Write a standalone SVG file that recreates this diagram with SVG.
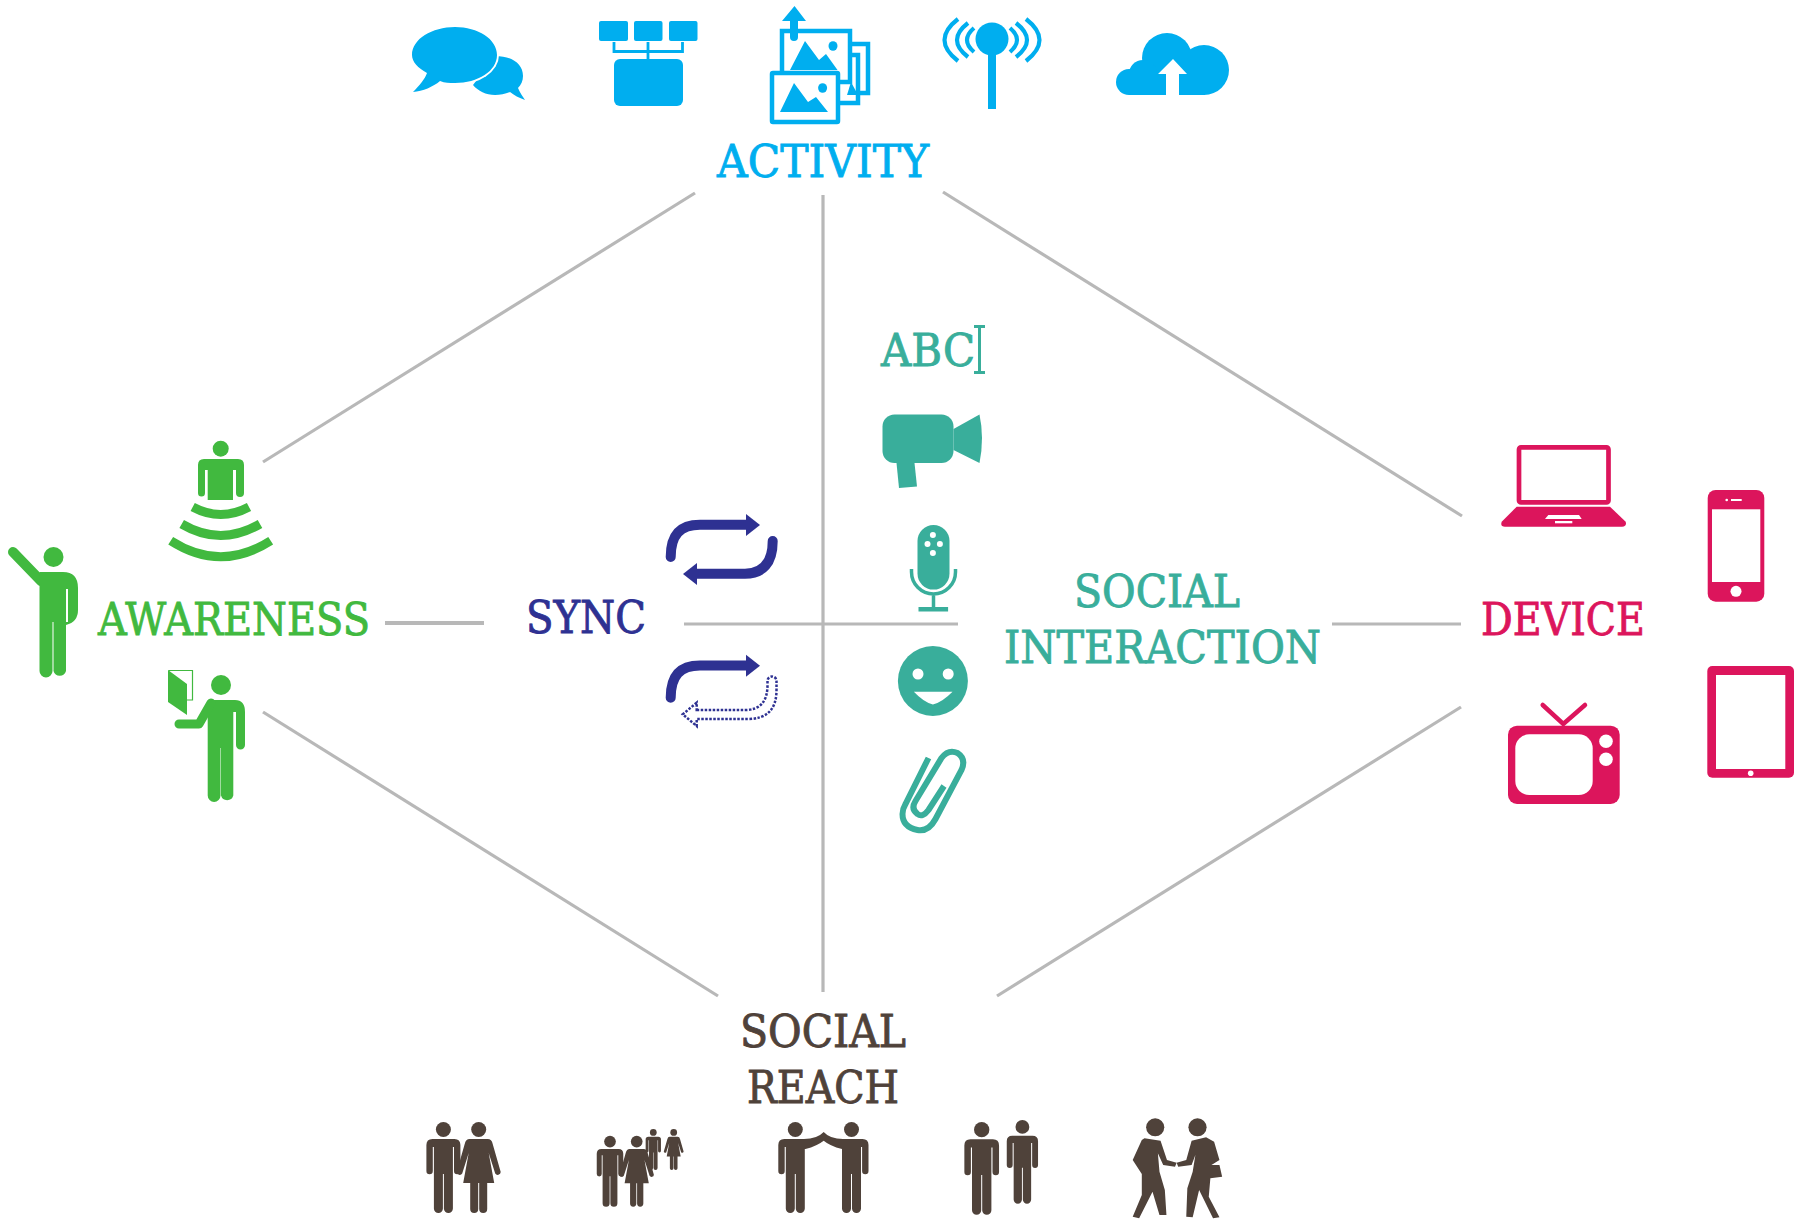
<svg xmlns="http://www.w3.org/2000/svg" xmlns:xlink="http://www.w3.org/1999/xlink" width="1797" height="1221" viewBox="0 0 1797 1221">
<style>
.t{font-family:"DejaVu Serif","Liberation Serif",serif;font-size:44px;stroke-width:.9}
.blue{fill:#00aeef;stroke:none}.green{fill:#41b93f}.navy{fill:#2e3192}.teal{fill:#39ae9b}.pink{fill:#dc155c}.brown{fill:#4f423a}
.w{fill:#fff}
.ln{stroke:#b8b8b8;stroke-width:3.2;fill:none}
</style>
<defs>
<g id="man"><circle cy="7.500" r="7.500"/><path d="M-11 17H11Q17 17 17 23V49A3.200 3.200 0 0 1 10.600 49V25H9.500V86.500A4.500 4.500 0 0 1 .5 86.500V52H-.5V86.500A4.500 4.500 0 0 1-9.500 86.500V25H-10.600V49A3.200 3.200 0 0 1-17 49V23Q-17 17-11 17Z"/></g>
<g id="man1"><circle cy="7.500" r="7.500"/><path d="M-11 17H9.500V86.500A4.500 4.500 0 0 1 .5 86.500V52H-.5V86.500A4.500 4.500 0 0 1-9.500 86.500V25H-10.600V49A3.200 3.200 0 0 1-17 49V23Q-17 17-11 17Z"/></g>
<g id="woman"><circle cy="7.500" r="7.500"/><path d="M-9 17H9Q13 17 14 22L22 50A3 3 0 0 1 16.500 51.500L10 31L15.500 61H8.500V87A4 4 0 0 1 .5 87V61H-.5V87A4 4 0 0 1-8.500 87V61H-15.500L-10 31L-16.500 51.500A3 3 0 0 1-22 50L-14 22Q-13 17-9 17Z"/></g>
</defs>
<rect width="1797" height="1221" fill="#fff"/>
<g id="connectors" class="ln">
<path d="M263 462L695 193"/>
<path d="M943 192L1462 516"/>
<path d="M263 712L718 996"/>
<path d="M997 996L1461 707"/>
<path d="M823 195V992"/>
<path d="M385 623H484" style="stroke-width:4"/>
<path d="M684 624H958"/>
<path d="M1332 624H1461"/>
</g>
<g id="activity" class="blue">
<text class="t" x="717" y="177" textLength="212" lengthAdjust="spacingAndGlyphs" style="stroke:#00aeef">ACTIVITY</text>
<g id="chat">
<path d="M495 56C512 56 523 64 523 76C523 81 521 85 518 88C520 93 523 97 525 100C519 98 514 95 510 92C505 94 500 95 495 95C486 95 478 91 473 85Z"/>
<ellipse cx="455" cy="55" rx="44" ry="30" fill="#fff"/>
<path d="M455 27C478 27 497 39 497 55C497 71 478 83 455 83C449 83 445 83 440 81C433 87 423 91 413 92C419 86 425 79 427 73C418 68 412 62 412 55C412 39 432 27 455 27Z"/>
</g>
<g id="hierarchy">
<rect x="599" y="21" width="29" height="20" rx="2"/><rect x="634" y="21" width="28.500" height="20" rx="2"/><rect x="669" y="21" width="28.500" height="20" rx="2"/>
<path d="M614 42V51.500H682.500V42M648 42V60" fill="none" stroke="#00aeef" stroke-width="2.800"/>
<rect x="614" y="59" width="69" height="47" rx="6"/>
</g>
<g id="images">
<path d="M794.500 6L806 21H798V37A4 4 0 0 1 790 37V21H782Z"/>
<g fill="none" stroke="#00aeef" stroke-width="4.500">
<path d="M851 44H868V93H858"/>
<path d="M851 55H858V103H840"/>
<path d="M790 31H782V82H850V31H798"/>
</g>
<path d="M851 82L858 95H847Z"/>
<rect x="772" y="73" width="66" height="49" rx="1" fill="#fff" stroke="#00aeef" stroke-width="4.500"/>
<path d="M790 70L805 41L819 60L826 54L837.500 70Z"/><ellipse cx="833" cy="46" rx="4.500" ry="4.800"/>
<path d="M780 112L794 83L808 102L816 97L828 112Z"/><ellipse cx="822.600" cy="88" rx="4.500" ry="4.800"/>
</g>
<g id="antenna">
<circle cx="992" cy="39" r="16.500"/><rect x="988" y="50" width="8" height="59"/>
<g fill="none" stroke="#00aeef" stroke-width="4.200">
<path d="M958 19Q931 40 958 61M968 23Q946 40 968 57M974 28Q960 40 974 52"/>
<path d="M1026 19Q1053 40 1026 61M1016 23Q1038 40 1016 57M1010 28Q1024 40 1010 52"/>
</g>
</g>
<g id="cloud">
<circle cx="1167" cy="58" r="25"/><circle cx="1204" cy="70" r="25"/><circle cx="1129" cy="82" r="13"/><circle cx="1143" cy="74" r="14"/><rect x="1129" y="70" width="76" height="25"/>
<path class="w" d="M1173 59L1187 74H1179V95H1166V74H1158Z"/>
</g>
</g>
<g id="awareness" class="green">
<text class="t" x="98" y="635" textLength="272" lengthAdjust="spacingAndGlyphs" style="stroke:#41b93f">AWARENESS</text>
<g id="signal-man">
<circle cx="220.700" cy="448.700" r="8"/>
<path d="M204 459H238Q244 459 244 465V493A3.500 3.500 0 0 1 236 493V470H233V500H207.700V470H205V493A3.500 3.500 0 0 1 198 493V465Q198 459 204 459Z"/>
<path d="M192.700 507Q220.700 522 249 507M181.700 524Q220.700 547 260 524M170.700 540.700Q220.700 572.700 270.700 540.700" fill="none" stroke="#41b93f" stroke-width="9"/>
</g>
<g id="waving-man">
<circle cx="53.500" cy="557" r="10"/>
<path d="M13 552L41 581" stroke="#41b93f" stroke-width="10" stroke-linecap="round" fill="none"/>
<path d="M39.500 572H63Q78 572 78 588V610Q78 622 66 625V671A6.500 6.500 0 0 1 53.500 671V622H52.500V671A6.500 6.500 0 0 1 39.500 671Z"/>
<rect class="w" x="66" y="589" width="2" height="33"/>
</g>
<g id="reading-man">
<circle cx="221" cy="685" r="10"/>
<path d="M213 700H235Q245 700 245 712V745A4.500 4.500 0 0 1 236 745V712H233.300V795.500A6.400 6.400 0 0 1 221 795.500V748H220.500V795.500A6.400 6.400 0 0 1 207.700 795.500V712Z"/>
<path d="M211 703L199 724H179" fill="none" stroke="#41b93f" stroke-width="9" stroke-linecap="round" stroke-linejoin="round"/>
<path d="M168 670L187 684V715L168 702Z"/>
<path d="M168.500 670.500H192.500V700H187" fill="none" stroke="#41b93f" stroke-width="1.200"/>
</g>
</g>
<g id="sync" class="navy">
<text class="t" x="526" y="633" textLength="120" lengthAdjust="spacingAndGlyphs" style="stroke:#2e3192">SYNC</text>
<g fill="none" stroke="#2e3192" stroke-width="10" stroke-linecap="round">
<path d="M670.700 557C670.700 535 680 524.700 700 524.700H748"/>
<path d="M772.700 541C772.700 563 763 573.700 745 573.700H695"/>
<path d="M670.700 697.700C670.700 675.700 680 665.400 700 665.400H748"/>
</g>
<path d="M746 514L760 525L746 536Z"/><path d="M697 563L683 574L697 585Z"/><path d="M746 654.700L760 665.700L746 676.700Z"/>
<path d="M696.700 710H745Q767.500 710 767.500 685V681A4.500 4.500 0 0 1 776.500 681V690Q776.500 719 748 719H696.700V726L682.700 714.300L696.700 702.700Z" fill="none" stroke="#2e3192" stroke-width="2.500" stroke-dasharray="2.500 1.500"/>
</g>
<g id="social-interaction" class="teal">
<text class="t" x="1074" y="607" textLength="166" lengthAdjust="spacingAndGlyphs" style="stroke:#39ae9b">SOCIAL</text>
<text class="t" x="1004" y="663" textLength="317" lengthAdjust="spacingAndGlyphs" style="stroke:#39ae9b">INTERACTION</text>
<text class="t" x="881" y="366" textLength="94" lengthAdjust="spacingAndGlyphs" style="stroke:#39ae9b">ABC</text>
<path d="M974 326.500H985M979.500 326.500V372.500M974 372.500H985" fill="none" stroke="#39ae9b" stroke-width="3"/>
<g transform="translate(-2.500 0)">
<g id="camera">
<rect x="885" y="414.500" width="71" height="48.500" rx="12"/>
<path d="M956 429L982 414.500Q987 438 982 463L956 450Z"/>
<path d="M899 463H917L919.500 486.500L901.500 488Z"/>
</g>
<g id="mic">
<rect x="920" y="525" width="32" height="64.600" rx="16"/>
<g class="w"><circle cx="935.400" cy="535" r="3"/><circle cx="930" cy="544" r="3"/><circle cx="942.400" cy="544" r="3"/><circle cx="935.400" cy="553" r="3"/></g>
<path d="M914 569V572A22 22 0 0 0 958 572V569M936 594V608" fill="none" stroke="#39ae9b" stroke-width="3.500"/>
<rect x="921" y="607" width="29.600" height="4.500"/>
</g>
<g id="smiley">
<circle cx="935.400" cy="681" r="35"/>
<g class="w"><circle cx="920.500" cy="674" r="5.500"/><circle cx="950.700" cy="674" r="5.500"/>
<path d="M916.400 691.700H955Q945 702 935.400 704.500Q926 702 916.400 691.700Z"/></g>
</g>
<path id="clip" d="M946.500 786L931 810Q925 818 920 814Q913 809 918 801L944 758Q951 749 960 753Q969 759 964 770L938 819Q931 832 920 830Q905 827 905 814Q905 809 908 804L931 758" fill="none" stroke="#39ae9b" stroke-width="6"/>
</g>
</g>
<g id="device" class="pink">
<text class="t" x="1481" y="635" textLength="164" lengthAdjust="spacingAndGlyphs" style="stroke:#dc155c">DEVICE</text>
<g id="laptop">
<rect x="1519" y="447.400" width="89.500" height="55" rx="2" fill="none" stroke="#dc155c" stroke-width="4.700"/>
<path d="M1516.700 506.700H1610L1625.700 521.700Q1627 526.700 1622 526.700H1505Q1500 526.700 1501.700 521.700Z"/>
<path class="w" d="M1548.300 515H1579L1581.700 519H1545Z"/><rect class="w" x="1555" y="521" width="17.300" height="2.300"/>
</g>
<g id="phone">
<rect x="1707.700" y="490" width="56.600" height="111.700" rx="8"/>
<g class="w"><rect x="1712" y="509.300" width="48.300" height="72.700"/><circle cx="1736" cy="591.300" r="5.500"/><rect x="1731" y="499" width="10.700" height="2"/><circle cx="1726.700" cy="500" r="1.300"/></g>
</g>
<g id="tablet">
<rect x="1707.300" y="666" width="86.700" height="111.700" rx="5"/>
<g class="w"><rect x="1716" y="675" width="69.300" height="94"/><circle cx="1750.700" cy="773.300" r="2.800"/></g>
</g>
<g id="tv">
<rect x="1508" y="725.700" width="111.700" height="78.300" rx="9"/>
<g class="w"><rect x="1515.300" y="734.300" width="77.400" height="60.700" rx="14"/><circle cx="1606" cy="741.300" r="6.800"/><circle cx="1606" cy="759.300" r="6.800"/></g>
<path d="M1542.700 705L1563.300 724L1585 705" fill="none" stroke="#dc155c" stroke-width="4.500" stroke-linecap="round"/>
</g>
</g>
<g id="social-reach" class="brown">
<text class="t" x="740" y="1047" textLength="166" lengthAdjust="spacingAndGlyphs" style="stroke:#4f423a">SOCIAL</text>
<text class="t" x="747" y="1103" textLength="152" lengthAdjust="spacingAndGlyphs" style="stroke:#4f423a">REACH</text>
<g id="couple">
<use xlink:href="#man" href="#man" transform="translate(443.400 1122)"/>
<use xlink:href="#woman" href="#woman" transform="translate(478.700 1122)"/>
</g>
<g id="families">
<use xlink:href="#man" href="#man" transform="translate(610 1135.700) scale(.78)"/>
<use xlink:href="#woman" href="#woman" transform="translate(636.700 1135.700) scale(.78)"/>
<use xlink:href="#man" href="#man" transform="translate(653.300 1129) scale(.45)"/>
<use xlink:href="#woman" href="#woman" transform="translate(673.700 1129) scale(.45)"/>
</g>
<g id="high-five">
<use xlink:href="#man1" href="#man1" transform="translate(795.300 1122)"/>
<use xlink:href="#man1" href="#man1" transform="translate(851.500 1122) scale(-1 1)"/>
<path d="M804 1139Q817 1139 823.700 1132Q830 1139 843 1139V1149H842Q830 1146 823.700 1140.700Q817 1146 805.500 1149H804Z"/>
</g>
<g id="pair">
<use xlink:href="#man" href="#man" transform="translate(981.700 1122) scale(1.02)"/>
<use xlink:href="#man" href="#man" transform="translate(1022.400 1120) scale(.92)"/>
</g>
<g id="handshake" transform="translate(400 1100) scale(.5356 .3333)">
<ellipse cx="1410" cy="82" rx="17" ry="27"/>
<ellipse cx="1489" cy="82" rx="17" ry="27"/>
<polygon points="1390,115 1420,122 1432,180 1450,188 1447,200 1425,195 1415,160 1418,215 1428,270 1431,345 1418,345 1405,275 1380,355 1368,350 1385,285 1385,222 1368,180 1385,120"/>
<polygon points="1505,112 1478,122 1468,180 1450,188 1453,200 1478,195 1485,165 1480,215 1470,265 1468,350 1480,352 1492,270 1518,355 1530,352 1510,290 1513,235 1535,230 1530,195 1515,195 1530,180 1520,125"/>
</g>
</g>
</svg>
